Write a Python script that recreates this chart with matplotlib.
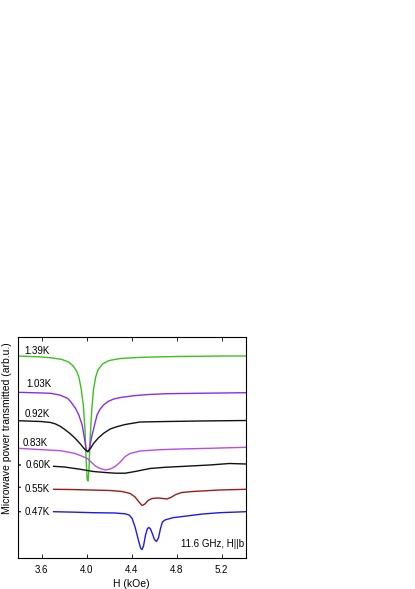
import numpy as np
import matplotlib
matplotlib.use('Agg')
import matplotlib.pyplot as plt

plt.rcParams['font.family'] = ['Liberation Sans', 'DejaVu Sans']

nan = np.nan

# datos (H en kOe, potencia en unidades arbitrarias)
temps = ['1.39K', '1.03K', '0.92K', '0.83K', '0.60K', '0.55K', '0.47K']
colores = ['#3cc01e', '#8a2cf0', '#111111', '#b64cf0', '#111111', '#9c1a1a', '#1a1af0']

h_139 = [3.385, 3.50, 3.60, 3.70, 3.78, 3.84, 3.88, 3.91, 3.93, 3.95, 3.97, 3.985,
         3.995, 4.005, 4.012, 4.02, 4.03, 4.045, 4.06, 4.08, 4.10, 4.14, 4.20, 4.30,
         4.45, 4.60, 4.80, 5.00, 5.20, 5.416]
p_139 = [201, 200.5, 200, 199, 197.5, 195, 191, 186, 180, 169, 152, 127,
         97, 77, 76, 87, 117, 147, 167, 180, 187, 193, 196.5, 198.5,
         199.5, 200, 200.5, 200.7, 201, 201]

h_103 = [3.385, 3.55, 3.68, 3.76, 3.83, 3.86, 3.90, 3.93, 3.96, 3.975, 3.997, 4.008,
         4.018, 4.03, 4.048, 4.07, 4.092, 4.12, 4.15, 4.19, 4.24, 4.30, 4.42, 4.55,
         4.71, 4.90, 5.20, 5.416]
p_103 = [164.7, 164.2, 163.7, 162, 158.7, 155, 148.7, 142, 132, 122, 107, 105.3,
         105.5, 112, 122, 132, 142, 148, 152, 155.5, 158, 159.5, 161.3, 162.5,
         163.3, 163.6, 164, 164.3]

h_092 = [3.385, 3.591, 3.679, 3.724, 3.768, 3.812, 3.856, 3.900, 3.944, 3.980, 4.009,
         4.033, 4.062, 4.103, 4.150, 4.209, 4.268, 4.342, 4.474, 4.710, 5.005, 5.416]
p_092 = [136.3, 135.5, 134.5, 133, 130.5, 127, 123, 118.5, 113, 108, 105.3,
         108.5, 113.7, 119, 123.7, 128, 130.3, 132.5, 135, 135.5, 136, 136.5]

h_083 = [3.385, 3.653, 3.768, 3.891, 3.944, 4.006, 4.077, 4.121, 4.165, 4.209, 4.254,
         4.298, 4.342, 4.386, 4.474, 4.651, 4.827, 5.092, 5.416]
p_083 = [108.7, 107, 106.3, 103.7, 101.5, 98.5, 91, 88.5, 87, 88, 90.5,
         95, 100.5, 103.5, 106, 107.3, 108, 108.7, 109.7]

h_060 = [3.385, 3.41, nan, 3.706, 3.803, 3.944, 4.059, 4.165, 4.253, 4.342, 4.430,
         4.562, 4.695, 4.801, 5.092, 5.269, 5.416]
p_060 = [92, 92, nan, 90.7, 90, 87.7, 85.5, 84.5, 83.8, 83.8, 85.5,
         88.5, 89.7, 90.3, 92, 93.5, 93]

h_055 = [3.385, 3.41, nan, 3.706, 3.856, 4.033, 4.209, 4.315, 4.386, 4.430, 4.465,
         4.492, 4.518, 4.545, 4.580, 4.633, 4.677, 4.713, 4.748, 4.792, 4.845, 4.942,
         5.180, 5.416]
p_055 = [69.7, 69.7, nan, 67.7, 67.5, 67, 66.5, 65.5, 63.5, 60, 55,
         51.5, 53, 56.5, 58.5, 59, 58.5, 58, 59.5, 62.5, 64.5, 65.5,
         67, 67.7]

h_047 = [3.385, 3.41, nan, 3.706, 3.900, 4.059, 4.253, 4.342, 4.377, 4.404, 4.430,
         4.457, 4.479, 4.492, 4.505, 4.523, 4.540, 4.554, 4.567, 4.585, 4.602, 4.620,
         4.638, 4.655, 4.673, 4.695, 4.766, 4.889, 5.030, 5.180, 5.416]
p_047 = [45.3, 45.3, nan, 45.3, 44.8, 44.3, 44, 43.2, 42, 38.5, 30,
         18, 9, 7.5, 11, 22, 28.5, 29.5, 28, 23, 17.5, 15.5,
         19, 28, 35, 37, 39.3, 41, 43, 44.3, 45.3]

curvas_h = [h_139, h_103, h_092, h_083, h_060, h_055, h_047]
curvas_p = [p_139, p_103, p_092, p_083, p_060, p_055, p_047]

# posicion de las etiquetas de temperatura
etiq_h = [3.443, 3.467, 3.452, 3.428, 3.458, 3.452, 3.452]
etiq_p = [206, 172.7, 142.7, 113.7, 92, 67.7, 45.3]

ticks_h = [3.6, 4.0, 4.4, 4.8, 5.2]

#Crear grafica
fig = plt.figure(figsize=(4.15, 5.89), dpi=100)
ax = fig.add_axes([17.5/415, (589-558)/589, (246-17.5)/415, (558-337.3)/589])

for h, p, c in zip(curvas_h, curvas_p, colores):
    ax.plot(h, p, color=c, lw=1.0)

for t, x, y in zip(temps, etiq_h, etiq_p):
    ax.text(x, y, t, fontsize=7, ha='left', va='center')

ax.text(0.991, 0.062, '11.6 GHz, H||b', transform=ax.transAxes,
        fontsize=7, ha='right', va='center')

ax.set_xlim(3.385, 5.416)
ax.set_ylim(-1, 219.7)
ax.set_xticks(ticks_h)
ax.set_xticklabels([f'{t:.1f}' for t in ticks_h])
ax.set_yticks([])
ax.tick_params(axis='x', direction='in', top=True, length=3, width=0.6,
               labelsize=7, pad=5)
for s in ax.spines.values():
    s.set_linewidth(0.8)

ax.set_xlabel('H (kOe)', fontsize=7.5, labelpad=3)
ax.set_ylabel('Microwave power transmitted (arb.u.)', fontsize=7.5)
ax.yaxis.set_label_coords(-0.025, 0.59)

fig.savefig('out.png', dpi=100)
